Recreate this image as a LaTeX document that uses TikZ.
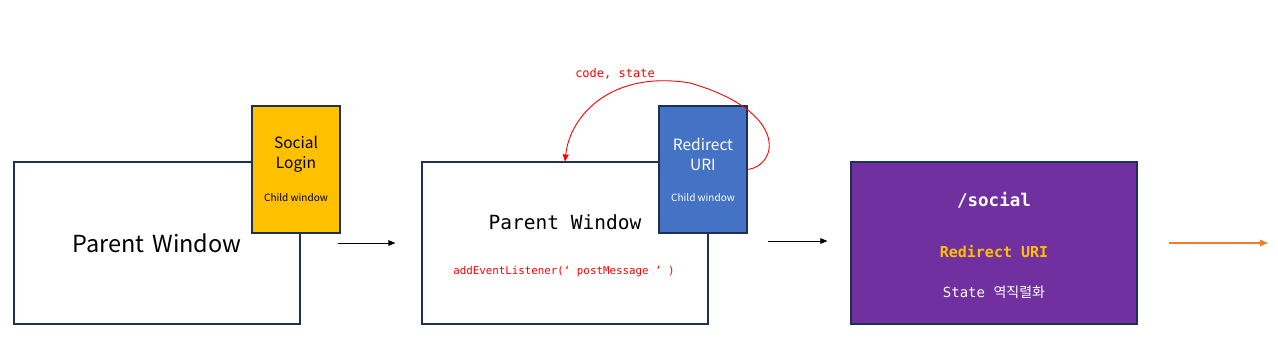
\documentclass[tikz,border=0pt]{standalone}
\usepackage{fontspec}
\setmainfont{Noto Sans CJK KR}
\setmonofont{DejaVu Sans Mono}
\newfontfamily\kr{Noto Sans CJK KR}
\usetikzlibrary{arrows.meta,positioning,calc}
\definecolor{frm}{HTML}{1F3055}
\definecolor{gld}{HTML}{FFC000}
\definecolor{blu}{HTML}{4472C4}
\definecolor{pur}{HTML}{7030A0}
\definecolor{org}{HTML}{ED7D31}
\definecolor{rd}{HTML}{FF0000}
\tikzset{
  win/.style ={draw=frm,line width=1.1pt,fill=white,minimum width=286pt,minimum height=162pt,inner sep=0pt},
  chd/.style ={draw=frm,line width=1.1pt,minimum width=88pt,minimum height=127pt,inner sep=0pt},
  ttl/.style ={align=center,inner sep=0pt,font=\fontsize{15.5}{19.5}\selectfont},
  sub/.style ={inner sep=0pt,font=\fontsize{10}{12}\selectfont},
  srv/.style ={win,fill=pur},
  mono/.style={font=\ttfamily,inner sep=0pt},
  a/.style   ={-{Triangle[length=7pt,width=5.5pt]},line width=.9pt,black},
}
\begin{document}
\begin{tikzpicture}[x=1pt,y=-1pt]
\useasboundingbox (0,0) rectangle (1278,363);
% ===== step 1: parent + social login popup =====
\node[win,font=\fontsize{23.5}{28}\selectfont] (p1) at (157,243) {Parent\,\,Window};
\node[chd,fill=gld] (sl) at (296,169.5) {};
\node[ttl] (slt) at (296,154.5) {Social\\Login};
\node[sub] (sls) at (296,198) {Child window};

% ===== step 2: parent listens, redirect popup =====
\node[win] (p2) at (565,243) {};
\node[mono,font=\ttfamily\fontsize{19.5}{23}\selectfont] (pw2) at (565,222) {Parent Window};
\node[mono,text=rd,font=\ttfamily\fontsize{10.8}{13}\selectfont] (lsn) at (564,272) {addEventListener(‘ postMessage ’ )};
\node[chd,fill=blu] (ru) at (703,169.5) {};
\node[ttl,text=white] (rut) at (703,154.5) {Redirect\\URI};
\node[sub,text=white] (rus) at (703,198) {Child window};
\draw[rd,line width=.9pt,-{Triangle[length=7pt,width=6pt]}] (ru.east)
  .. controls (778,166) and (790,112) .. (690,83)
  .. controls (612,70) and (570,115) .. (p2.north);
\node[mono,text=rd,font=\ttfamily\fontsize{12}{14}\selectfont] (cs) at (615,74) {code, state};

% ===== step 3: server endpoint =====
\node[srv] (soc) at (994,243) {};
\node[mono,text=white,font=\ttfamily\bfseries\fontsize{17.5}{21}\selectfont] (path) at (994,200) {/social};
\node[mono,text=gld,font=\ttfamily\bfseries\fontsize{15}{18}\selectfont] (uri) at (994,252) {Redirect URI};
\node[mono,text=white,font=\ttfamily\fontsize{14}{17}\selectfont] (st) at (994,292) {State {\kr 역직렬화}};

% ===== connectors =====
\coordinate (out) at (1268,243);
\draw[a,shorten <=37pt,shorten >=26pt] (p1.east) -- (p2.west);
\draw[a,shorten <=59pt,shorten >=23pt] ($(p2.east)+(0,-2)$) -- ($(soc.west)+(0,-2)$);
\draw[a,org,line width=1.6pt,-{Triangle[length=8pt,width=6.5pt]},shorten <=31pt] (soc.east) -- (out);
\end{tikzpicture}
\end{document}
